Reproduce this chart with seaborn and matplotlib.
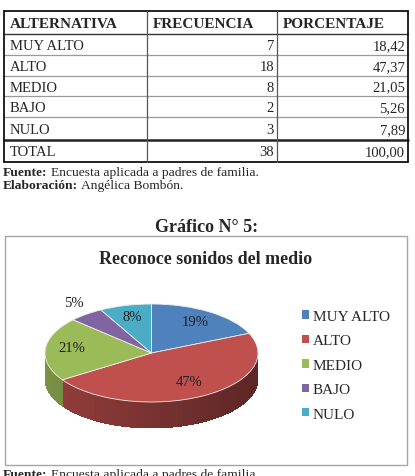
import numpy as np
import pandas as pd
import seaborn as sns
import matplotlib.pyplot as plt
from matplotlib.lines import Line2D
from matplotlib.patches import Patch, Rectangle

# datos de la tabla
alternativas = ['MUY ALTO', 'ALTO', 'MEDIO', 'BAJO', 'NULO']
frecuencia = [7, 18, 8, 2, 3]
porcentaje = [18.42, 47.37, 21.05, 5.26, 7.89]
etiquetas_pct = ['19%', '47%', '21%', '5%', '8%']
total_frec = 38
total_pct = '100,00'

colores = ['#4F81BD', '#C0504D', '#9BBB59', '#8064A2', '#4BACC6']

tabla = pd.DataFrame({'ALTERNATIVA': alternativas,
                      'FRECUENCIA': frecuencia,
                      'PORCENTAJE': porcentaje})

sns.set_style('white')
plt.rcParams['font.family'] = ['Liberation Serif', 'DejaVu Serif']

W, H = 415, 477
fig = plt.figure(figsize=(W / 100, H / 100), dpi=100)


def fx(x):
    return x / W


def fy(y):
    return 1 - y / H


def linea(x0, y0, x1, y1, color='#222222', lw=1.0):
    fig.add_artist(Line2D([fx(x0), fx(x1)], [fy(y0), fy(y1)], color=color, lw=lw,
                          transform=fig.transFigure))


# ---- tabla ----
left, c1, c2, right = 3.5, 147, 277, 408
filas_y = [12, 35, 56, 77, 97, 118, 141, 163]
for i, y in enumerate(filas_y):
    if i in (0, len(filas_y) - 1):
        linea(left, y, right, y, '#111111', 1.3)
    elif i == 1:
        linea(left, y, right, y, '#333333', 1.0)
    elif i == 6:
        linea(left, y, right, y, '#222222', 1.8)
    else:
        linea(left, y, right, y, '#9a9a9a', 0.9)
linea(left, 12, left, 163, '#111111', 1.3)
linea(right, 12, right, 163, '#111111', 1.3)
linea(c1, 12, c1, 163, '#555555', 0.9)
linea(c2, 12, c2, 163, '#555555', 0.9)

fs_tab = 10.5
yc = [(filas_y[i] + filas_y[i + 1]) / 2 + 1 for i in range(len(filas_y) - 1)]
for x, h in zip([10, 153, 283], tabla.columns):
    fig.text(fx(x), fy(yc[0]), h, fontsize=11, fontweight='bold', va='center')
for i, row in tabla.iterrows():
    y = fy(yc[i + 1])
    fig.text(fx(10), y, row['ALTERNATIVA'], fontsize=fs_tab, va='center')
    fig.text(fx(274), y, str(row['FRECUENCIA']), fontsize=fs_tab, va='center', ha='right')
    fig.text(fx(405), y, f"{row['PORCENTAJE']:.2f}".replace('.', ','), fontsize=fs_tab,
             va='center', ha='right')
fig.text(fx(10), fy(yc[-1]), 'TOTAL', fontsize=fs_tab, va='center')
fig.text(fx(274), fy(yc[-1]), str(total_frec), fontsize=fs_tab, va='center', ha='right')
fig.text(fx(405), fy(yc[-1]), total_pct, fontsize=fs_tab, va='center', ha='right')

renderer = fig.canvas.get_renderer()


def nota(x, y, negrita, resto, fs=9.7):
    t = fig.text(fx(x), fy(y), negrita, fontsize=fs, fontweight='bold', va='center')
    bb = t.get_window_extent(renderer)
    fig.text(fx(x + bb.width + 3), fy(y), resto, fontsize=fs, va='center')


nota(3, 173, 'Fuente:', 'Encuesta aplicada a padres de familia.')
nota(3, 186, 'Elaboración:', 'Angélica Bombón.')

fig.text(fx(207), fy(228), 'Gráfico N° 5:', fontsize=13, fontweight='bold',
         ha='center', va='center')

# marco del grafico
fig.add_artist(Rectangle((fx(5), fy(466)), fx(407) - fx(5), fy(237) - fy(466),
                         fill=False, edgecolor='#a6a6a6', lw=1.0, transform=fig.transFigure))
fig.text(fx(206), fy(259), 'Reconoce sonidos del medio', fontsize=13, fontweight='bold',
         ha='center', va='center')

# ---- pastel 3D ----
cx, cy, rx, ry, prof = 151.5, 354, 106.5, 49, 26
ax_l, ax_r, ax_t, ax_b = 25, 285, 285, 445
ax = fig.add_axes([fx(ax_l), fy(ax_b), fx(ax_r) - fx(ax_l), fy(ax_t) - fy(ax_b)])
wedges, textos, autotextos = ax.pie(porcentaje, colors=colores, startangle=90,
                                    counterclock=False, autopct='%1.0f%%', pctdistance=0.72,
                                    wedgeprops=dict(edgecolor='#eeeeee', lw=0.6),
                                    textprops=dict(fontsize=10.5, color='#222222'))
ax.set_aspect('auto')
ax.set_xlim((ax_l - cx) / rx, (ax_r - cx) / rx)
ax.set_ylim((cy - ax_b) / ry, (cy - ax_t) / ry)
d = prof / ry

# lados visibles (mitad inferior)
for w, c in zip(wedges, colores):
    base = np.array(plt.matplotlib.colors.to_rgb(c))
    for lo, hi in [(-180, 0), (180, 360)]:
        a0, a1 = max(w.theta1, lo), min(w.theta2, hi)
        if a1 <= a0:
            continue
        angs = np.linspace(a0, a1, max(int((a1 - a0) / 3), 2))
        for t0, t1 in zip(angs[:-1], angs[1:]):
            tm = np.deg2rad((t0 + t1) / 2)
            k = 0.78 - 0.3 * (np.cos(tm) + 1) / 2
            r0, r1 = np.deg2rad(t0 - 0.4), np.deg2rad(t1 + 0.4)
            xs = [np.cos(r0), np.cos(r1), np.cos(r1), np.cos(r0)]
            ys = [np.sin(r0), np.sin(r1), np.sin(r1) - d, np.sin(r0) - d]
            ax.fill(xs, ys, color=base * k, lw=0, antialiased=False, zorder=0)

for w in wedges:
    w.set_zorder(2)
for t, lab, w in zip(autotextos, etiquetas_pct, wedges):
    t.set_text(lab)
    t.set_zorder(3)
    m = np.deg2rad((w.theta1 + w.theta2) / 2)
    if (w.theta2 - w.theta1) < 20:
        t.set_position((1.18 * np.cos(m), 1.3 * np.sin(m)))
    else:
        t.set_position((0.75 * np.cos(m), 0.72 * np.sin(m) + 0.05))

handles = [Patch(facecolor=c, edgecolor='none') for c in colores]
fig.legend(handles, alternativas, loc='upper left', bbox_to_anchor=(fx(302), fy(311)),
           frameon=False, fontsize=11, handlelength=0.45, handleheight=0.45,
           handletextpad=0.25, labelspacing=0.75, borderpad=0, borderaxespad=0)

nota(3, 475, 'Fuente:', 'Encuesta aplicada a padres de familia.')

fig.savefig('out.png', dpi=100)
